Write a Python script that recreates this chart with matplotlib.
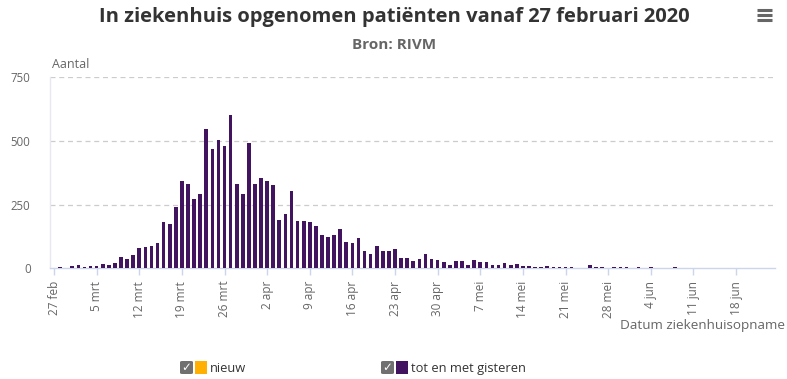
import datetime as dt
import matplotlib
matplotlib.use("Agg")
import matplotlib.pyplot as plt
import matplotlib.dates as mdates
from matplotlib.patches import FancyBboxPatch, Rectangle
from matplotlib.lines import Line2D

# ---------------- data ----------------
start_date = dt.date(2020, 2, 27)
values = [0, 5, 0, 9, 13, 5, 9, 9, 17, 13,
          22, 45, 38, 53, 80, 84, 88, 101, 182, 175,
          242, 342, 330, 273, 293, 547, 469, 504, 480, 601,
          332, 293, 492, 332, 355, 344, 328, 191, 211, 305,
          187, 184, 181, 165, 132, 124, 132, 155, 105, 100,
          120, 68, 57, 88, 68, 68, 76, 41, 41, 29,
          37, 57, 37, 33, 25, 13, 28, 28, 14, 32,
          25, 24, 14, 11, 21, 11, 16, 9, 10, 6,
          7, 9, 6, 5, 5, 4, 0, 0, 12, 6,
          6, 0, 5, 5, 5, 0, 4, 0, 4, 0,
          0, 0, 4]
dates = [start_date + dt.timedelta(days=i) for i in range(len(values))]
tick_dates = [start_date + dt.timedelta(days=7 * i) for i in range(17)]
tick_labels = ["27 feb", "5 mrt", "12 mrt", "19 mrt", "26 mrt", "2 apr", "9 apr",
               "16 apr", "23 apr", "30 apr", "7 mei", "14 mei", "21 mei", "28 mei",
               "4 jun", "11 jun", "18 jun"]
y_ticks = [0, 250, 500, 750]
title = "In ziekenhuis opgenomen patiënten vanaf 27 februari 2020"
subtitle = "Bron: RIVM"
y_title = "Aantal"
x_title = "Datum ziekenhuisopname"
legend_labels = ["nieuw", "tot en met gisteren"]
legend_colors = ["#ffb000", "#42145f"]

# ---------------- figure ----------------
W, H = 787, 379
fig = plt.figure(figsize=(W / 100, H / 100), dpi=100)
plt.rcParams['font.family'] = ['Open Sans', 'DejaVu Sans']

def fx(px):
    return px / W

def fy(py):
    return 1 - py / H

ax = fig.add_axes([fx(50), fy(268.3), fx(775) - fx(50), fy(77) - fy(268.3)])

ax.bar(dates, values, width=0.6, color="#42145f", align="center", zorder=3)

ax.set_ylim(0, 750)
ax.set_xlim(mdates.date2num(start_date) - 0.66, mdates.date2num(start_date) + 118.4)
ax.set_yticks(y_ticks)
ax.set_yticklabels([str(v) for v in y_ticks])
ax.set_xticks(tick_dates)
ax.set_xticklabels(tick_labels, rotation=90, ha="center", va="top")

for v in y_ticks[1:]:
    ax.axhline(v, color="#cccccc", lw=0.9, ls=(0, (4, 3)), zorder=1)

for s in ["top", "right"]:
    ax.spines[s].set_visible(False)
ax.spines["bottom"].set_color("#ccd6eb")
ax.spines["left"].set_color("#e6e9f0")
ax.spines["bottom"].set_linewidth(1)
ax.spines["left"].set_linewidth(1)

ax.tick_params(axis="y", length=0, pad=14, labelsize=8.3, labelcolor="#666666")
ax.tick_params(axis="x", length=5, width=1, color="#ccd6eb", pad=4,
               labelsize=8.5, labelcolor="#666666")

# titles
fig.text(fx(394), fy(17), title, ha="center", va="center", fontsize=14.5,
         fontweight="bold", color="#333333")
fig.text(fx(394), fy(45), subtitle, ha="center", va="center", fontsize=11,
         fontweight="bold", color="#666666")
fig.text(fx(52), fy(64), y_title, ha="left", va="center", fontsize=9,
         color="#666666")
fig.text(fx(785), fy(326), x_title, ha="right", va="center", fontsize=9.7,
         color="#666666")

# hamburger icon
for yy in [10, 15, 20]:
    fig.add_artist(Line2D([fx(757), fx(772)], [fy(yy), fy(yy)], color="#666666",
                          lw=2.2, solid_capstyle="butt"))

# legend
for (cx, label, col) in [(180, legend_labels[0], legend_colors[0]),
                         (381, legend_labels[1], legend_colors[1])]:
    box = FancyBboxPatch((fx(cx), fy(374)), fx(13), fy(361) - fy(374),
                         boxstyle="round,pad=0,rounding_size=0.003",
                         transform=fig.transFigure, facecolor="#707070",
                         edgecolor="none")
    fig.add_artist(box)
    fig.text(fx(cx + 6.5), fy(367.5), "✓", ha="center", va="center", fontsize=8.5,
             color="white", fontweight="bold", family="DejaVu Sans")
    fig.add_artist(Rectangle((fx(cx + 15), fy(374)), fx(12), fy(361) - fy(374),
                             transform=fig.transFigure, facecolor=col,
                             edgecolor="none"))
    fig.text(fx(cx + 30), fy(368.5), label, ha="left", va="center", fontsize=9.3,
             color="#333333")

fig.savefig("out.png", dpi=100)
